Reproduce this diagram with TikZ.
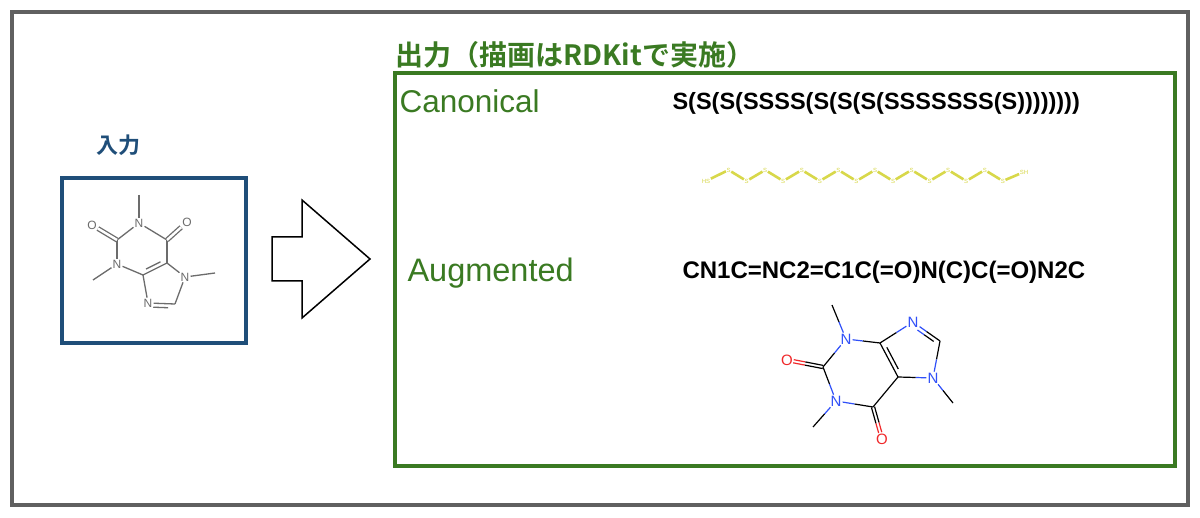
\documentclass[tikz,border=0pt]{standalone}
\usepackage{fontspec}
\setmainfont{Liberation Sans}
\newfontfamily\cjk{Noto Sans CJK JP}[BoldFont={Noto Sans CJK JP Bold}]
\usetikzlibrary{calc}
\definecolor{grn}{HTML}{3A7A22}
\definecolor{blu}{HTML}{1F4E79}
\definecolor{frame}{HTML}{606060}
\definecolor{atN}{HTML}{3050F8}
\definecolor{atO}{HTML}{F0282A}
\definecolor{chain}{HTML}{D8D84A}
\tikzset{
  gat/.style={inner sep=1pt,font=\fontsize{12}{12}\selectfont,text=gray!85!black,fill=white},
  gb/.style={draw=gray!85!black,line width=1.3pt},
  cat/.style={inner sep=1pt,font=\fontsize{15}{15}\selectfont,fill=white},
  sat/.style={inner sep=0.5pt,font=\fontsize{6}{6}\selectfont,text=chain},
}
\newcommand{\hb}[4]{\draw[#3,line width=1.2pt] (#1) -- ($(#1)!0.5!(#2)$);\draw[#4,line width=1.2pt] ($(#1)!0.5!(#2)$) -- (#2);}
\begin{document}
\begin{tikzpicture}[x=1pt,y=-1pt]
\useasboundingbox (0,0) rectangle (1200,518);
\fill[white] (0,0) rectangle (1200,518);
\draw[frame,line width=3.2pt] (12,12) rectangle (1188,505);
% input
\node[anchor=west,text=blu,font=\cjk\bfseries\fontsize{22}{22}\selectfont] (inlab) at (93,145) {入力};
\draw[blu,line width=3.2pt] (62,178) rectangle (246,343);
\coordinate (m1) at (139,195);
\node[gat] (a1) at (139,223) {N};
\coordinate (a6) at (167,240);
\node[gat] (o6) at (187,222) {O};
\coordinate (a5) at (167,263);
\node[gat] (a7) at (185,277) {N};
\coordinate (m7) at (215,273);
\coordinate (a8) at (175,304);
\node[gat] (a9) at (148,303) {N};
\coordinate (a4) at (143,275);
\node[gat] (a3) at (117,264) {N};
\coordinate (m3) at (93,280);
\coordinate (a2) at (117,240);
\node[gat] (o2) at (92,225) {O};
\draw[gb] (m1)--(a1); \draw[gb] (a1)--(a6); \draw[gb] (a6)--(a5); \draw[gb] (a5)--(a7);
\draw[gb] (a7)--(m7); \draw[gb] (a7)--(a8); \draw[gb] (a8)--(a9); \draw[gb] (a9)--(a4);
\draw[gb] (a4)--(a5); \draw[gb] (a4)--(a3); \draw[gb] (a3)--(m3); \draw[gb] (a3)--(a2); \draw[gb] (a2)--(a1);
\draw[gb,double=white,double distance=2.4pt] (a6)--(o6);
\draw[gb,double=white,double distance=2.4pt] (a2)--(o2);
\draw[gb] ($(a4)!0.2!(a5)!4pt!90:(a5)$) -- ($(a4)!0.8!(a5)!4pt!90:(a5)$);
\draw[gb] ($(a9)!0.2!(a8)!4pt!-90:(a8)$) -- ($(a9)!0.75!(a8)!4pt!-90:(a8)$);
% arrow
\draw[black,line width=1.5pt] (272,237) -- (302,237) -- (302,200) -- (370,259) -- (302,318) -- (302,281) -- (272,281) -- cycle;
% output
\node[anchor=west,text=grn,font=\cjk\bfseries\fontsize{28}{28}\selectfont] (outlab) at (392,55) {出力（描画はRDKitで実施）};
\draw[grn,line width=3.2pt] (395,73) rectangle (1175,466);
\node[anchor=west,text=grn,font=\fontsize{31.5}{31.5}\selectfont] (can) at (396,101) {Canonical};
\node[anchor=west,text=grn,font=\fontsize{32.5}{32.5}\selectfont] (aug) at (404,273) {Augmented};
\node[anchor=west,font=\bfseries\fontsize{23.5}{23.5}\selectfont] (s1) at (669,103) {S(S(S(SSSS(S(S(S(SSSSSSS(S))))))))};
\node[anchor=west,font=\bfseries\fontsize{24}{24}\selectfont] (s2) at (679,272) {CN1C=NC2=C1C(=O)N(C)C(=O)N2C};
% chain
\node[sat] (h0) at (706,181) {HS};
\foreach \i in {1,...,8}{
  \node[sat] (u\i) at ({692+36.6*\i},170) {S};
  \node[sat] (d\i) at ({710+36.6*\i},181) {S};
}
\node[sat] (h1) at (1024,172) {SH};
\draw[chain,line width=2.6pt,line join=round] (h0)--(u1)--(d1)--(u2)--(d2)--(u3)--(d3)--(u4)--(d4)--(u5)--(d5)--(u6)--(d6)--(u7)--(d7)--(u8)--(d8)--(h1);
% caffeine colored
\coordinate (bm3) at (832,305);
\node[cat,text=atN] (b3) at (846,339) {N};
\coordinate (b4) at (880,343);
\node[cat,text=atN] (b9) at (913,322) {N};
\coordinate (b8) at (940,341);
\node[cat,text=atN] (b7) at (933,378) {N};
\coordinate (bm7) at (953,403);
\coordinate (b5) at (898,377);
\coordinate (b6) at (873,407);
\node[cat,text=atO] (bo6) at (882,439) {O};
\node[cat,text=atN] (b1) at (836,401) {N};
\coordinate (bm1) at (813,427);
\coordinate (b2) at (823,367);
\node[cat,text=atO] (bo2) at (787,360) {O};
\hb{bm3}{b3}{black}{atN} \hb{b3}{b4}{atN}{black} \hb{b4}{b9}{black}{atN}
\hb{b9}{b8}{atN}{black} \hb{b8}{b7}{black}{atN} \hb{b7}{bm7}{atN}{black}
\hb{b7}{b5}{atN}{black} \draw[black,line width=1.2pt] (b5)--(b4);
\draw[black,line width=1.2pt] (b5)--(b6);
\hb{b6}{b1}{black}{atN} \hb{b1}{bm1}{atN}{black} \hb{b1}{b2}{atN}{black} \hb{b2}{b3}{black}{atN}
\draw[black,line width=1.2pt] ($(b4)!0.18!(b5)!4pt!90:(b5)$) -- ($(b4)!0.82!(b5)!4pt!90:(b5)$);
\draw[atN,line width=1.2pt] ($(b9)!0.25!(b8)!4pt!-90:(b8)$) -- ($(b9)!0.5!(b8)!4pt!-90:(b8)$);
\draw[black,line width=1.2pt] ($(b9)!0.5!(b8)!4pt!-90:(b8)$) -- ($(b9)!0.85!(b8)!4pt!-90:(b8)$);
\foreach \s in {-1.6,1.6}{
  \draw[black,line width=1.2pt] ($(b6)!\s pt!90:(bo6)$) -- ($($(b6)!0.5!(bo6)$)!\s pt!90:(bo6)$);
  \draw[atO,line width=1.2pt] ($($(b6)!0.5!(bo6)$)!\s pt!90:(bo6)$) -- ($($(b6)!0.8!(bo6)$)!\s pt!90:(bo6)$);
  \draw[black,line width=1.2pt] ($(b2)!\s pt!90:(bo2)$) -- ($($(b2)!0.5!(bo2)$)!\s pt!90:(bo2)$);
  \draw[atO,line width=1.2pt] ($($(b2)!0.5!(bo2)$)!\s pt!90:(bo2)$) -- ($($(b2)!0.82!(bo2)$)!\s pt!90:(bo2)$);
}
\end{tikzpicture}
\end{document}
